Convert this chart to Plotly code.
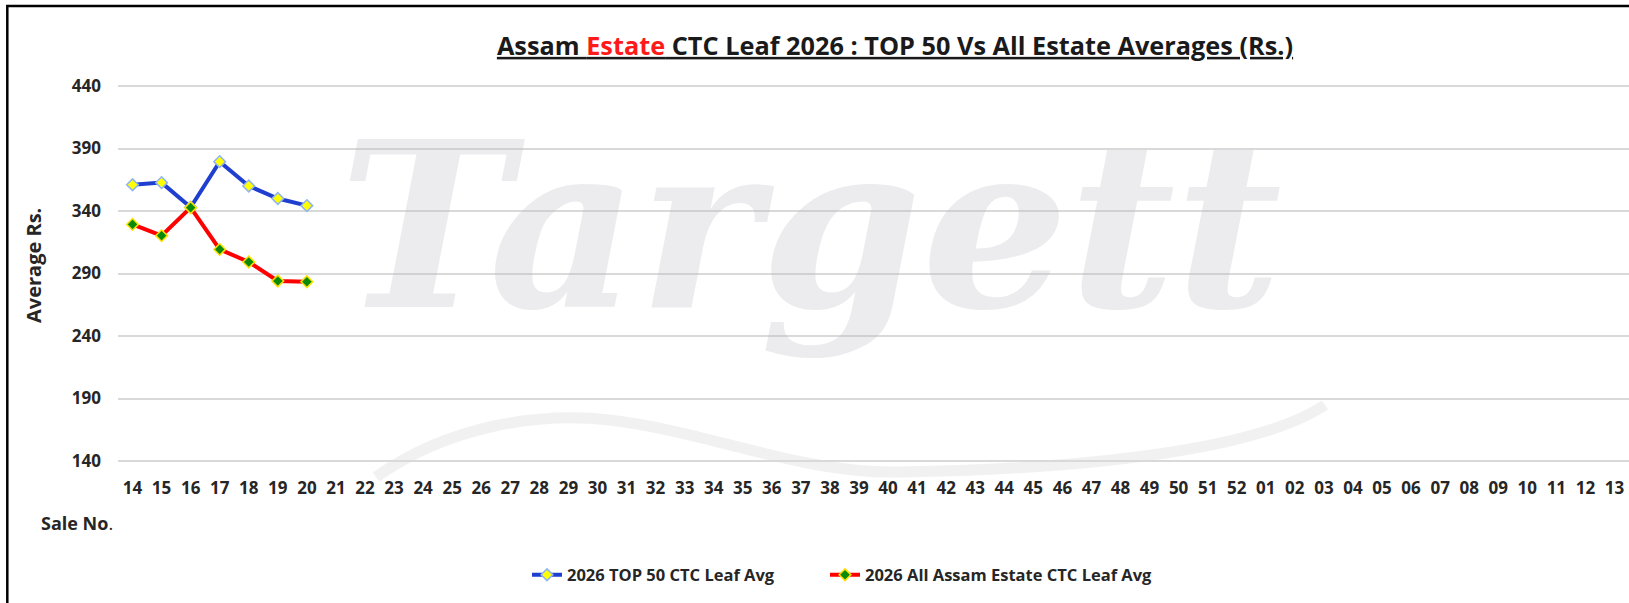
import plotly.graph_objects as go

sales = [str(n) for n in range(14, 53)] + [f"{n:02d}" for n in range(1, 14)]
top50_sales = ["14", "15", "16", "17", "18", "19", "20"]
top50_avg = [361, 362.7, 343, 379.5, 360, 350, 344.3]
all_avg = [329.3, 320.3, 342.7, 309.3, 299.2, 284, 283.4]
y_ticks = [140, 190, 240, 290, 340, 390, 440]

FONT = "Open Sans"
W, H = 1629, 603
# plot area in page coordinates
P_LEFT, P_RIGHT, P_TOP, P_BOTTOM = 118, 1629, 60, 470
L = P_LEFT
R = W - P_RIGHT
T = P_TOP
B = H - P_BOTTOM
PW = W - L - R
PH = H - T - B


def px(x):
    return (x - L) / PW


def py(y):
    return (P_BOTTOM - y) / PH


LEG_FONT = dict(family=FONT, size=16.5, weight="bold", color="#262626")

fig = go.Figure()
fig.add_trace(go.Scatter(
    x=top50_sales, y=top50_avg, mode="lines+markers",
    name="2026 TOP 50 CTC Leaf Avg", legend="legend",
    line=dict(color="#1f3fd0", width=4),
    marker=dict(symbol="diamond", size=9, color="#ffff00",
                line=dict(color="#8fb4f0", width=1.5)),
))
fig.add_trace(go.Scatter(
    x=top50_sales, y=all_avg, mode="lines+markers",
    name="2026 All Assam Estate CTC Leaf Avg", legend="legend2",
    line=dict(color="#ff0000", width=4),
    marker=dict(symbol="diamond", size=9, color="#0a8a0a",
                line=dict(color="#ffe000", width=1.5)),
))

fig.update_layout(
    width=W, height=H,
    margin=dict(l=L, r=R, t=T, b=B, autoexpand=False),
    paper_bgcolor="white", plot_bgcolor="white",
    font=dict(family=FONT, color="#262626"),
    showlegend=True,
    legend=dict(orientation="h", x=px(527), xanchor="left",
                y=py(575), yanchor="middle", font=LEG_FONT, itemwidth=30),
    legend2=dict(orientation="h", x=px(825), xanchor="left",
                 y=py(575), yanchor="middle", font=LEG_FONT, itemwidth=30),
    title=dict(
        text="<b><u>Assam <span style='color:#ff1a1a'>Estate</span> CTC Leaf 2026 : TOP 50 Vs All Estate Averages (Rs.)</u></b>",
        x=895 / W, xanchor="center", xref="container",
        y=1 - 46 / H, yanchor="middle", yref="container",
        font=dict(family=FONT, size=25.3, color="#1a1a1a"),
    ),
    xaxis=dict(
        type="category", categoryorder="array", categoryarray=sales,
        tickvals=sales, ticktext=sales,
        range=[-0.5, len(sales) - 0.5],
        showgrid=False, showline=False, zeroline=False, ticks="",
        tickfont=dict(family=FONT, size=17, weight="bold", color="#262626"),
        ticklabelstandoff=6, automargin=False,
    ),
    yaxis=dict(
        range=[132.8, 460.8], tickvals=y_ticks,
        showgrid=True, gridcolor="#d9d9d9", gridwidth=1.5,
        zeroline=False, showline=False, ticks="",
        tickfont=dict(family=FONT, size=17, weight="bold", color="#262626"),
        ticklabelstandoff=16, automargin=False,
    ),
)

# watermark
fig.add_annotation(
    text="<b><i>Targett</i></b>", xref="paper", yref="paper",
    x=px(810), y=py(225), xanchor="center", yanchor="middle",
    showarrow=False,
    font=dict(family="DejaVu Serif", size=231, color="rgba(185,185,195,0.28)"),
)
fig.add_shape(type="path", xref="paper", yref="paper",
              path=(f"M {px(376)},{py(477)} C {px(450)},{py(425)} {px(540)},{py(412)} {px(610)},{py(420)} "
                    f"C {px(710)},{py(432)} {px(800)},{py(474)} {px(900)},{py(472)} "
                    f"C {px(1050)},{py(470)} {px(1250)},{py(455)} {px(1325)},{py(405)}"),
              line=dict(color="rgba(190,190,195,0.22)", width=11), layer="below")

fig.add_annotation(
    text="Average Rs.", xref="paper", yref="paper",
    x=px(33), y=py(266), xanchor="center", yanchor="middle",
    textangle=-90, showarrow=False,
    font=dict(family=FONT, size=20, weight="bold", color="#262626"),
)
fig.add_annotation(
    text="Sale No<span style='font-weight:normal'>.</span>", xref="paper", yref="paper",
    x=px(39), y=py(523), xanchor="left", yanchor="middle",
    showarrow=False,
    font=dict(family=FONT, size=18, weight="bold", color="#262626"),
)

# outer frame
fig.add_shape(type="rect", xref="paper", yref="paper",
              x0=px(7.3), y0=py(640), x1=px(1700), y1=py(6),
              line=dict(color="black", width=2.5), fillcolor="rgba(0,0,0,0)",
              layer="above")

fig.write_html(
    "out.html",
    config={"displayModeBar": False},
    post_script="document.body.style.margin='0';document.body.style.overflow='hidden';",
)
